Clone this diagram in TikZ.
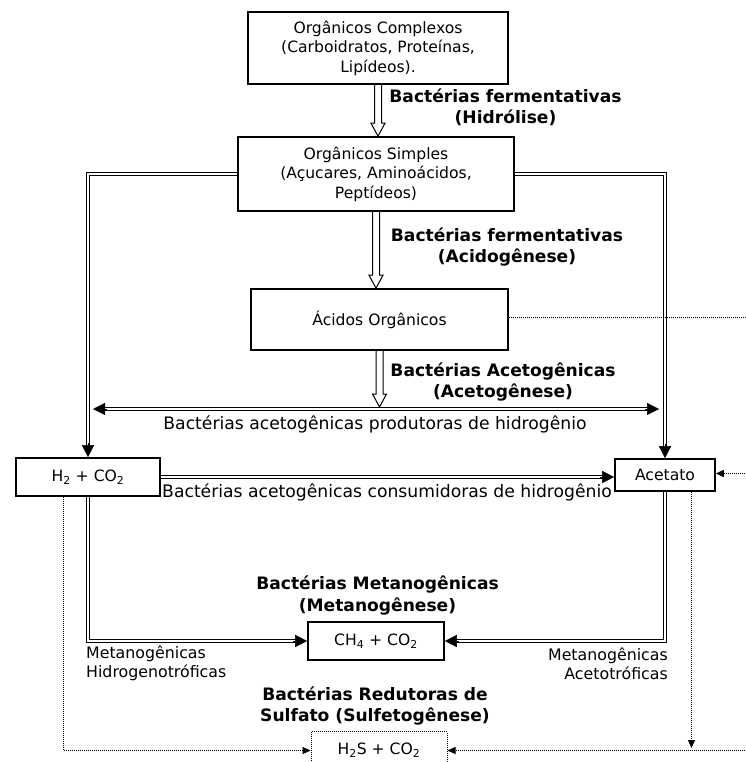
\documentclass[tikz,border=0pt]{standalone}
\usepackage{fontspec}
\setmainfont{DejaVu Sans}
\usetikzlibrary{arrows.meta,calc}
\newcommand{\boxfnt}{\fontsize{15.6}{19.5}\selectfont}
\newcommand{\lblfnt}{\fontsize{17.2}{20}\selectfont}
\newcommand{\smfnt}{\fontsize{15.8}{19}\selectfont}
\newcommand{\bldfnt}{\fontsize{17.1}{21}\selectfont\bfseries}
\newcommand{\hollowarr}[2]{%
  \draw[hollowline] ([xshift=-3.5pt]#1) -- ([xshift=-3.5pt,yshift=13pt]#2) -- ([xshift=-7pt,yshift=13pt]#2) -- (#2) -- ([xshift=7pt,yshift=13pt]#2) -- ([xshift=3.5pt,yshift=13pt]#2) -- ([xshift=3.5pt]#1);}
\begin{document}
\begin{tikzpicture}[x=1pt,y=-1pt,
  box/.style={draw,line width=1.6pt,inner sep=0pt,align=center,font=\boxfnt},
  dotbox/.style={draw,line width=1pt,dash pattern=on 1pt off 1pt,inner sep=0pt,align=center,font=\boxfnt},
  bl/.style={inner sep=0pt,align=center,font=\bldfnt},
  lbl/.style={inner sep=0pt,font=\lblfnt},
  sm/.style={inner sep=0pt,font=\smfnt},
  dbl/.style={draw,double,line width=1pt,double distance=2pt,line join=miter},
  tipst/.style={draw,line width=0.5pt,-{Triangle[length=12pt,width=12pt]}},
  hollowline/.style={draw,line width=1pt,line join=miter},
  dotline/.style={draw,line width=1pt,dash pattern=on 1pt off 1pt},
  dotarrow/.style={dotline,-{Triangle[length=8pt,width=7pt]}}]
\useasboundingbox (0,0) rectangle (745,762);
% boxes
\node[box,minimum width=260pt,minimum height=72pt] (comp) at (378,48) {Orgânicos Complexos\\(Carboidratos, Proteínas,\\Lipídeos).};
\node[box,minimum width=276pt,minimum height=74pt] (simp) at (376,174) {Orgânicos Simples\\(Açucares, Aminoácidos,\\Peptídeos)};
\node[box,minimum width=257pt,minimum height=61pt] (acid) at (379.5,319.5) {Ácidos Orgânicos};
\node[box,minimum width=144pt,minimum height=38pt] (h2) at (88,477) {H\textsubscript{2} + CO\textsubscript{2}};
\node[box,minimum width=100pt,minimum height=32pt] (acet) at (665,475) {Acetato};
\node[box,minimum width=136pt,minimum height=38pt] (ch4) at (376,641) {CH\textsubscript{4} + CO\textsubscript{2}};
\node[dotbox,minimum width=136pt,minimum height=38pt] (h2s) at (379,750.5) {H\textsubscript{2}S + CO\textsubscript{2}};
% labels
\node[bl] (lh) at (505.5,107.5) {Bactérias fermentativas\\(Hidrólise)};
\node[bl] (la) at (507,247) {Bactérias fermentativas\\(Acidogênese)};
\node[bl] (lac) at (503,382.5) {Bactérias Acetogênicas\\(Acetogênese)};
\node[lbl] (lp) at (375,424) {Bactérias acetogênicas produtoras de hidrogênio};
\node[lbl,anchor=west] (lc) at (162,492) {Bactérias acetogênicas consumidoras de hidrogênio};
\node[bl] (lm) at (377.5,595.5) {Bactérias Metanogênicas\\(Metanogênese)};
\node[sm,anchor=west,align=left] (lhy) at (86,663.5) {Metanogênicas\\Hidrogenotróficas};
\node[sm,anchor=east,align=right] (lat) at (668,663.5) {Metanogênicas\\Acetotróficas};
\node[bl] (ls) at (375,706) {Bactérias Redutoras de\\Sulfato (Sulfetogênese)};
% hollow arrows
\coordinate (t1) at (comp.south |- simp.north);
\hollowarr{comp.south}{t1}
\coordinate (t2) at (simp.south |- acid.north);
\hollowarr{simp.south}{t2}
\coordinate (pl) at (93,409);
\coordinate (pr) at (659,409);
\coordinate (t3) at ($(acid.south |- pl)+(0,-2)$);
\hollowarr{acid.south}{t3}
% double-line connectors
\draw[dbl,shorten <=10pt,shorten >=10pt] (pl) -- (pr);
\draw[tipst] ([xshift=14pt]pl) -- (pl);
\draw[tipst] ([xshift=-14pt]pr) -- (pr);
\draw[dbl,shorten >=10pt] (simp.west) -| (h2.north);
\draw[tipst] ([yshift=14pt]h2.north) -- (h2.north);
\draw[dbl,shorten >=10pt] (simp.east) -| (acet.north);
\draw[tipst] ([yshift=14pt]acet.north) -- (acet.north);
\coordinate (ae) at (h2.east -| acet.west);
\draw[dbl,shorten >=10pt] (h2.east) -- (ae);
\draw[tipst] ([xshift=-14pt]ae) -- (ae);
\draw[dbl,shorten >=10pt] (h2.south) |- (ch4.west);
\draw[tipst] ([xshift=-14pt]ch4.west) -- (ch4.west);
\draw[dbl,shorten >=10pt] (acet.south) |- (ch4.east);
\draw[tipst] ([xshift=14pt]ch4.east) -- (ch4.east);
% dotted connectors
\coordinate (eA) at (745,317.5);
\coordinate (eB) at (745,473.5);
\coordinate (eC) at (745,750.5);
\coordinate (dvend) at (691.5,748);
\draw[dotline] (acid.east |- eA) -- (eA);
\draw[dotarrow] (eB) -- (eB -| acet.east);
\draw[dotarrow] ([xshift=-24.5pt]h2.south) |- (h2s.west);
\draw[dotarrow] (eC) -- (h2s.east);
\draw[dotarrow] (acet.south -| dvend) -- (dvend);
\end{tikzpicture}
\end{document}
